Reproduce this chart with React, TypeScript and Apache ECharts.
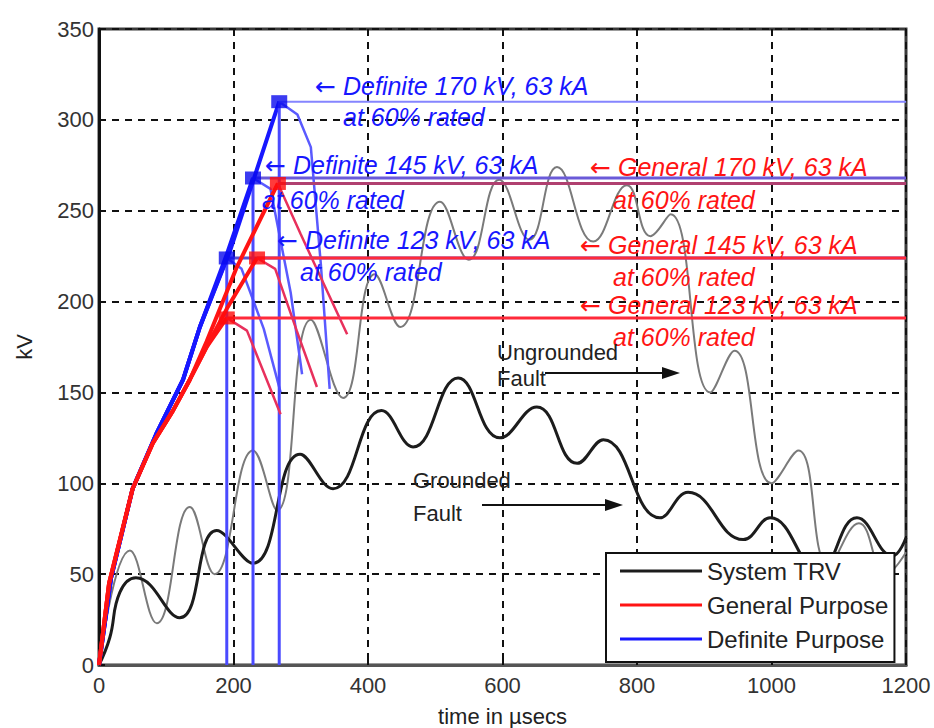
import React, { useEffect, useRef } from "react";
import * as echarts from "echarts";

// ---- data (time in µs, voltage in kV) ----
const xTickValues = [0, 200, 400, 600, 800, 1000, 1200];
const yTickValues = [0, 50, 100, 150, 200, 250, 300, 350];

const groundedFault: [number, number][] = [
  [0, 0], [16, 15], [31, 40], [55, 48], [120, 26], [175, 74], [229, 56], [299, 116],
  [348, 97], [420, 140], [467, 120], [534, 158], [596, 125], [651, 142], [711, 111],
  [750, 124], [834, 81], [876, 95], [958, 69], [998, 81], [1070, 52], [1127, 81],
  [1180, 60], [1200, 70],
];

const ungroundedFault: [number, number][] = [
  [0, 0], [46, 63], [86, 23], [135, 87], [172, 50], [229, 118], [265, 85], [315, 190],
  [363, 147], [410, 215], [448, 186], [507, 255], [550, 223], [595, 267], [640, 234],
  [681, 274], [735, 233], [785, 264], [820, 236], [850, 248], [909, 150], [945, 173],
  [1000, 100], [1040, 118], [1085, 55], [1130, 78], [1170, 50], [1200, 62],
];

const definite123Rise: [number, number][] = [[0, 0], [18, 48], [50, 97], [85, 127], [125, 157], [150, 186], [190, 224]];
const definite145Rise: [number, number][] = [[0, 0], [18, 48], [50, 97], [85, 127], [125, 157], [150, 186], [190, 226], [229, 268]];
const definite170Rise: [number, number][] = [[0, 0], [18, 48], [50, 97], [85, 127], [125, 157], [150, 186], [195, 228], [268, 310]];
const definite123Fall: [number, number][] = [[190, 224], [212, 218], [245, 185], [270, 150]];
const definite145Fall: [number, number][] = [[229, 268], [255, 262], [285, 205], [302, 160]];
const definite170Fall: [number, number][] = [[268, 310], [295, 303], [315, 285], [330, 220], [343, 152]];

const general123Rise: [number, number][] = [[0, 0], [15, 45], [50, 97], [80, 122], [110, 140], [135, 157], [160, 175], [190, 191]];
const general145Rise: [number, number][] = [[0, 0], [15, 45], [50, 97], [80, 122], [110, 140], [135, 157], [160, 175], [190, 196], [235, 224]];
const general170Rise: [number, number][] = [[0, 0], [15, 45], [50, 97], [80, 122], [110, 140], [135, 157], [160, 178], [205, 219], [266, 265]];
const general123Fall: [number, number][] = [[190, 191], [220, 184], [270, 138]];
const general145Fall: [number, number][] = [[235, 224], [262, 218], [294, 184], [324, 153]];
const general170Fall: [number, number][] = [[266, 265], [300, 237], [369, 182]];

const definitePeaks: [number, number][] = [[190, 224], [229, 268], [268, 310]];
const generalPeaks: [number, number][] = [[190, 191], [235, 224], [266, 265]];
const timeEnd = 1200;

const definiteLabels = [
  ["Definite 170 kV, 63 kA", "at 60% rated"],
  ["Definite 145 kV, 63 kA", "at 60% rated"],
  ["Definite 123 kV, 63 kA", "at 60% rated"],
];
const generalLabels = [
  ["General 170 kV, 63 kA", "at 60% rated"],
  ["General 145 kV, 63 kA", "at 60% rated"],
  ["General 123 kV, 63 kA", "at 60% rated"],
];
const legendNames = ["System TRV", "General Purpose", "Definite Purpose"];

const FONT = '"Liberation Sans", Arial, Helvetica, sans-serif';
const RED = "#ff1414";
const BLUE = "#1717ff";

function line(name: string, data: [number, number][], color: string, width: number, z = 3, smooth: number | boolean = false) {
  return {
    name,
    type: "line",
    data,
    symbol: "none",
    smooth,
    silent: true,
    z,
    lineStyle: { color, width },
    itemStyle: { color },
  };
}

export default function App() {
  const ref = useRef<HTMLDivElement>(null);
  useEffect(() => {
    const chart = echarts.init(ref.current!, undefined, { renderer: "svg" });

    const blueRises = [definite123Rise, definite145Rise, definite170Rise];
    const blueFalls = [definite123Fall, definite145Fall, definite170Fall];
    const redRises = [general123Rise, general145Rise, general170Rise];
    const redFalls = [general123Fall, general145Fall, general170Fall];

    const series: any[] = [
      line("System TRV", groundedFault, "#1c1c1c", 3, 4, 0.45),
      line("Ungrounded", ungroundedFault, "#7a7a7a", 2, 3, 0.45),
    ];
    const blueHorizColors = ["#5a4fd0", "#6a5ad8", "#8585ff"];
    definitePeaks.forEach((p, i) => {
      series.push(line(i === 0 ? "Definite Purpose" : "Definite " + i, blueRises[i], BLUE, 4, 5));
      series.push(line("Definite fall " + i, blueFalls[i], "#5a5aff", 2.5, 5));
      series.push(line("Definite vert " + i, [[p[0], 0], [p[0], p[1]]], "#4a4aff", 3, 5));
      series.push(line("Definite horiz " + i, [[p[0], p[1]], [timeEnd, p[1]]], blueHorizColors[i], i === 2 ? 2 : 3, 5));
    });
    generalPeaks.forEach((p, i) => {
      series.push(line(i === 0 ? "General Purpose" : "General " + i, redRises[i], RED, 4, 6));
      series.push(line("General fall " + i, redFalls[i], "#e8305c", 2.5, 6));
      series.push(line("General horiz " + i, [[p[0], p[1]], [timeEnd, p[1]]], i === 2 ? "#b04070" : "#ff2a3a", 3, 6));
    });
    series.push({
      name: "Definite peaks", type: "scatter", data: definitePeaks, symbol: "rect",
      symbolSize: [16, 13], itemStyle: { color: "#0a0aee" }, z: 7, silent: true,
    });
    series.push({
      name: "General peaks", type: "scatter", data: generalPeaks, symbol: "rect",
      symbolSize: [16, 13], itemStyle: { color: "#ff0a0a" }, z: 7, silent: true,
    });

    const italic = "italic 25px " + FONT;
    const arrowFont = '25px "DejaVu Sans", sans-serif';
    const txt = (text: string, x: number, y: number, fill: string, font = italic) => ({
      type: "text", x, y, z: 20,
      style: { text, fill, font, textVerticalAlign: "middle", textAlign: "left" },
    });
    const bluePos = [[315, 86, 343, 117], [265, 165, 262, 200], [277, 240, 300, 272]];
    const redPos = [[590, 167, 613, 200], [580, 245, 613, 277], [580, 305, 613, 337]];
    const graphic: any[] = [];
    definiteLabels.forEach((l, i) => {
      const p = bluePos[i];
      graphic.push(txt("←", p[0], p[1], BLUE, arrowFont));
      graphic.push(txt(l[0], p[0] + 28, p[1], BLUE));
      graphic.push(txt(l[1], p[2], p[3], BLUE));
    });
    generalLabels.forEach((l, i) => {
      const p = redPos[i];
      graphic.push(txt("←", p[0], p[1], RED, arrowFont));
      graphic.push(txt(l[0], p[0] + 28, p[1], RED));
      graphic.push(txt(l[1], p[2], p[3], RED));
    });
    const plain = "22px " + FONT;
    graphic.push(txt("Ungrounded", 497, 352, "#222", plain));
    graphic.push(txt("Fault", 497, 378, "#222", plain));
    graphic.push(txt("Grounded", 413, 480, "#222", plain));
    graphic.push(txt("Fault", 413, 513, "#222", plain));
    const arrow = (x1: number, x2: number, y: number) => [
      { type: "line", z: 20, shape: { x1, y1: y, x2: x2 - 12, y2: y }, style: { stroke: "#111", lineWidth: 2 } },
      { type: "polygon", z: 20, shape: { points: [[x2, y], [x2 - 18, y - 6], [x2 - 18, y + 6]] }, style: { fill: "#111" } },
    ];
    graphic.push(...arrow(545, 680, 373));
    graphic.push(...arrow(482, 623, 505));

    const option: any = {
      animation: false,
      textStyle: { fontFamily: FONT },
      grid: {
        left: 99, right: 28, top: 29, bottom: 63,
        show: true, borderColor: "#3a3a3a", borderWidth: 3,
        outerBoundsMode: "none",
      },
      xAxis: {
        type: "value", min: xTickValues[0], max: xTickValues[xTickValues.length - 1], interval: 200,
        name: "time in µsecs", nameLocation: "middle", nameGap: 40,
        nameTextStyle: { fontSize: 22, color: "#222", fontFamily: FONT },
        axisLine: { show: true, lineStyle: { color: "#555", width: 3 } },
        axisTick: { show: true, inside: true, length: 6, lineStyle: { color: "#111", width: 2 } },
        axisLabel: { fontSize: 22, color: "#333", margin: 9, formatter: (v: number) => String(v) },
        splitLine: { show: true, lineStyle: { type: [7, 6], color: "#111", width: 2 } },
      },
      yAxis: {
        type: "value", min: yTickValues[0], max: yTickValues[yTickValues.length - 1], interval: 50,
        name: "kV", nameLocation: "middle", nameGap: 64, nameRotate: 90,
        nameTextStyle: { fontSize: 22, color: "#222", fontFamily: FONT },
        axisLine: { show: true, lineStyle: { color: "#111", width: 3 } },
        axisTick: { show: true, inside: true, length: 6, lineStyle: { color: "#111", width: 2 } },
        axisLabel: { fontSize: 22, color: "#333", margin: 5, formatter: (v: number) => String(v) },
        splitLine: { show: true, lineStyle: { type: [7, 6], color: "#111", width: 2 } },
      },
      legend: {
        data: legendNames,
        orient: "vertical",
        left: 606, top: 553,
        backgroundColor: "#fff",
        borderColor: "#111", borderWidth: 2,
        padding: [6, 6, 11, 14],
        itemWidth: 82, itemHeight: 3, itemGap: 10, icon: "rect",
        textStyle: { fontSize: 24, color: "#222", lineHeight: 20 },
        selectedMode: false,
        z: 30,
      },
      graphic,
      series,
    };
    chart.setOption(option);
    return () => chart.dispose();
  }, []);
  return <div ref={ref} style={{ position: "absolute", left: 0, top: 0, width: 934, height: 728 }} />;
}
